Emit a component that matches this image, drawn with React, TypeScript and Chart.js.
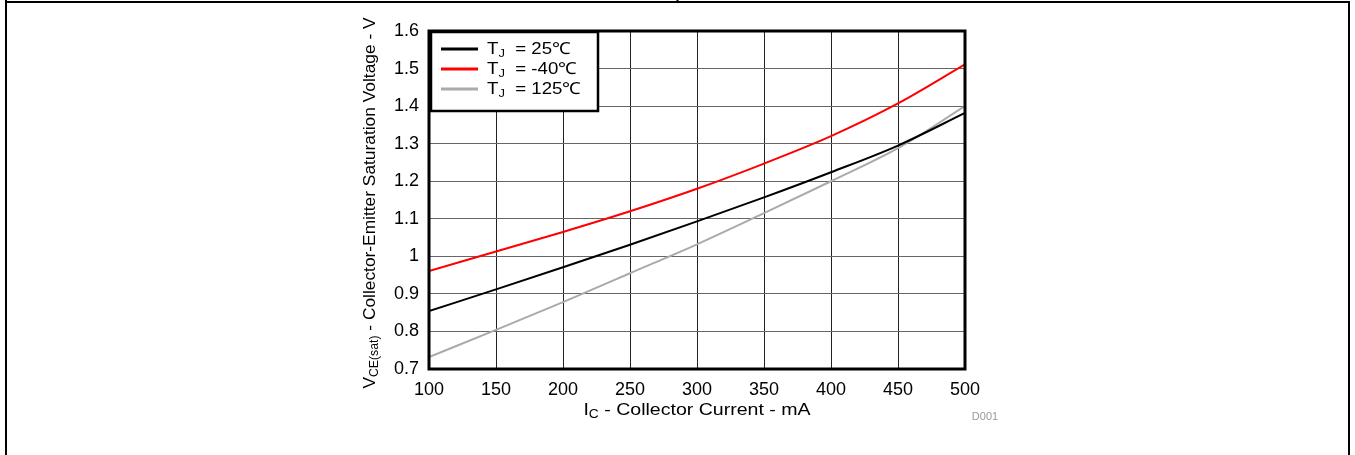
import React, { useEffect, useRef } from "react";
import { Chart, registerables } from "chart.js";

Chart.register(...registerables);

const currents = [100, 150, 200, 250, 300, 350, 400, 450, 500];
const v25 = [0.854, 0.912, 0.971, 1.031, 1.093, 1.157, 1.224, 1.295, 1.382];
const vMinus40 = [0.961, 1.013, 1.065, 1.12, 1.18, 1.247, 1.32, 1.407, 1.511];
const v125 = [0.732, 0.804, 0.878, 0.955, 1.032, 1.115, 1.2, 1.288, 1.4];
const seriesNames = ["25℃", "-40℃", "125℃"];
const seriesColors = ["#000000", "#ff0000", "#aaaaaa"];
const yTicks = [0.7, 0.8, 0.9, 1, 1.1, 1.2, 1.3, 1.4, 1.5, 1.6];
const xTitleMain = "I";
const xTitleSub = "C";
const xTitleRest = " - Collector Current - mA";
const yTitleMain = "V";
const yTitleSub = "CE(sat)";
const yTitleRest = " - Collector-Emitter Saturation Voltage - V";
const figureId = "D001";

const FONT = "'Liberation Sans', Arial, sans-serif";

type Part = { text: string; size: number; dy: number };

function drawParts(
  ctx: CanvasRenderingContext2D,
  parts: Part[],
  x: number,
  y: number,
  stretch: number,
  align: "center" | "left"
) {
  let total = 0;
  for (const p of parts) {
    ctx.font = `${p.size}px ${FONT}`;
    total += ctx.measureText(p.text).width;
  }
  ctx.save();
  ctx.translate(x, y);
  ctx.scale(stretch, 1);
  let cx = align === "center" ? -total / 2 : 0;
  ctx.textAlign = "left";
  ctx.textBaseline = "middle";
  for (const p of parts) {
    ctx.font = `${p.size}px ${FONT}`;
    ctx.fillText(p.text, cx, p.dy);
    cx += ctx.measureText(p.text).width;
  }
  ctx.restore();
}

const decorPlugin = {
  id: "decor",
  beforeDraw(chart: any) {
    const ctx = chart.ctx as CanvasRenderingContext2D;
    ctx.save();
    ctx.fillStyle = "#fff";
    ctx.fillRect(0, 0, chart.width, chart.height);
    ctx.strokeStyle = "#000";
    ctx.lineWidth = 2;
    ctx.beginPath();
    ctx.moveTo(6, 0);
    ctx.lineTo(6, chart.height);
    ctx.moveTo(6, 2);
    ctx.lineTo(1350, 2);
    ctx.moveTo(1349, 2);
    ctx.lineTo(1349, chart.height);
    ctx.moveTo(677.5, 0);
    ctx.lineTo(677.5, 2);
    ctx.stroke();
    ctx.restore();
  },
  afterDatasetsDraw(chart: any) {
    const ctx = chart.ctx as CanvasRenderingContext2D;
    const a = chart.chartArea;
    ctx.save();
    // legend box
    const lx = a.left + 2;
    const ly = a.top + 1;
    const lw = 167;
    const lh = 79;
    ctx.fillStyle = "#fff";
    ctx.fillRect(lx, ly, lw, lh);
    ctx.strokeStyle = "#000";
    ctx.lineWidth = 2.5;
    ctx.strokeRect(lx, ly, lw, lh);
    const rows = [49, 69, 89];
    seriesNames.forEach((name, i) => {
      ctx.strokeStyle = seriesColors[i];
      ctx.lineWidth = 3;
      ctx.beginPath();
      ctx.moveTo(441, rows[i]);
      ctx.lineTo(478, rows[i]);
      ctx.stroke();
      ctx.fillStyle = "#000";
      drawParts(
        ctx,
        [
          { text: "T", size: 16.5, dy: 0 },
          { text: "J", size: 11.5, dy: 5 },
          { text: "  = " + name, size: 16.5, dy: 0 },
        ],
        487,
        rows[i],
        1.13,
        "left"
      );
    });
    // thick plot border
    ctx.strokeStyle = "#000";
    ctx.lineWidth = 3;
    ctx.strokeRect(a.left, a.top, a.right - a.left, a.bottom - a.top);
    ctx.restore();
  },
  afterDraw(chart: any) {
    const ctx = chart.ctx as CanvasRenderingContext2D;
    const a = chart.chartArea;
    ctx.save();
    ctx.fillStyle = "#000";
    drawParts(
      ctx,
      [
        { text: xTitleMain, size: 17, dy: 0 },
        { text: xTitleSub, size: 12, dy: 5 },
        { text: xTitleRest, size: 17, dy: 0 },
      ],
      (a.left + a.right) / 2,
      410,
      1.15,
      "center"
    );
    ctx.translate(370, (a.top + a.bottom) / 2 + 3);
    ctx.rotate(-Math.PI / 2);
    drawParts(
      ctx,
      [
        { text: yTitleMain, size: 17, dy: 0 },
        { text: yTitleSub, size: 12, dy: 5 },
        { text: yTitleRest, size: 17, dy: 0 },
      ],
      0,
      0,
      1.02,
      "center"
    );
    ctx.restore();
    ctx.save();
    ctx.fillStyle = "#9a9a9a";
    ctx.font = `11px ${FONT}`;
    ctx.textAlign = "center";
    ctx.textBaseline = "middle";
    ctx.fillText(figureId, 985, 417);
    ctx.restore();
  },
};

export default function App() {
  const ref = useRef<HTMLCanvasElement>(null);
  useEffect(() => {
    if (!ref.current) return;
    const mk = (vals: number[]) => currents.map((c, i) => ({ x: c, y: vals[i] }));
    const chart = new Chart(ref.current, {
      type: "line",
      data: {
        datasets: [v25, vMinus40, v125].map((vals, i) => ({
          label: seriesNames[i],
          data: mk(vals),
          borderColor: seriesColors[i],
          borderWidth: 2,
          pointRadius: 0,
          tension: 0.4,
          cubicInterpolationMode: "monotone" as const,
          fill: false,
        })),
      },
      options: {
        animation: false,
        responsive: false,
        maintainAspectRatio: false,
        events: [],
        layout: { padding: { left: 379, right: 390, top: 31, bottom: 56 } },
        plugins: { legend: { display: false }, tooltip: { enabled: false }, title: { display: false } },
        scales: {
          x: {
            type: "linear",
            min: 100,
            max: 500,
            afterFit: (s: any) => {
              s.height = 30;
            },
            ticks: {
              stepSize: 50,
              color: "#000",
              font: { family: FONT, size: 18 },
              padding: 10,
              maxRotation: 0,
            },
            grid: { color: "#222", lineWidth: 1, drawTicks: false },
            border: { display: false },
          },
          y: {
            type: "linear",
            min: 0.7,
            max: 1.6,
            afterFit: (s: any) => {
              s.width = 50;
            },
            afterBuildTicks: (s: any) => {
              s.ticks = yTicks.map((v) => ({ value: v }));
            },
            ticks: {
              color: "#000",
              font: { family: FONT, size: 18 },
              padding: 10,
              callback: (v: any) => String(Math.round(Number(v) * 10) / 10),
            },
            grid: { color: "#666", lineWidth: 1, drawTicks: false },
            border: { display: false },
          },
        },
      },
      plugins: [decorPlugin],
    });
    return () => chart.destroy();
  }, []);
  return (
    <div style={{ position: "absolute", left: 0, top: 0, width: 1355, height: 455 }}>
      <canvas ref={ref} width={1355} height={455} style={{ width: 1355, height: 455, display: "block" }} />
    </div>
  );
}
